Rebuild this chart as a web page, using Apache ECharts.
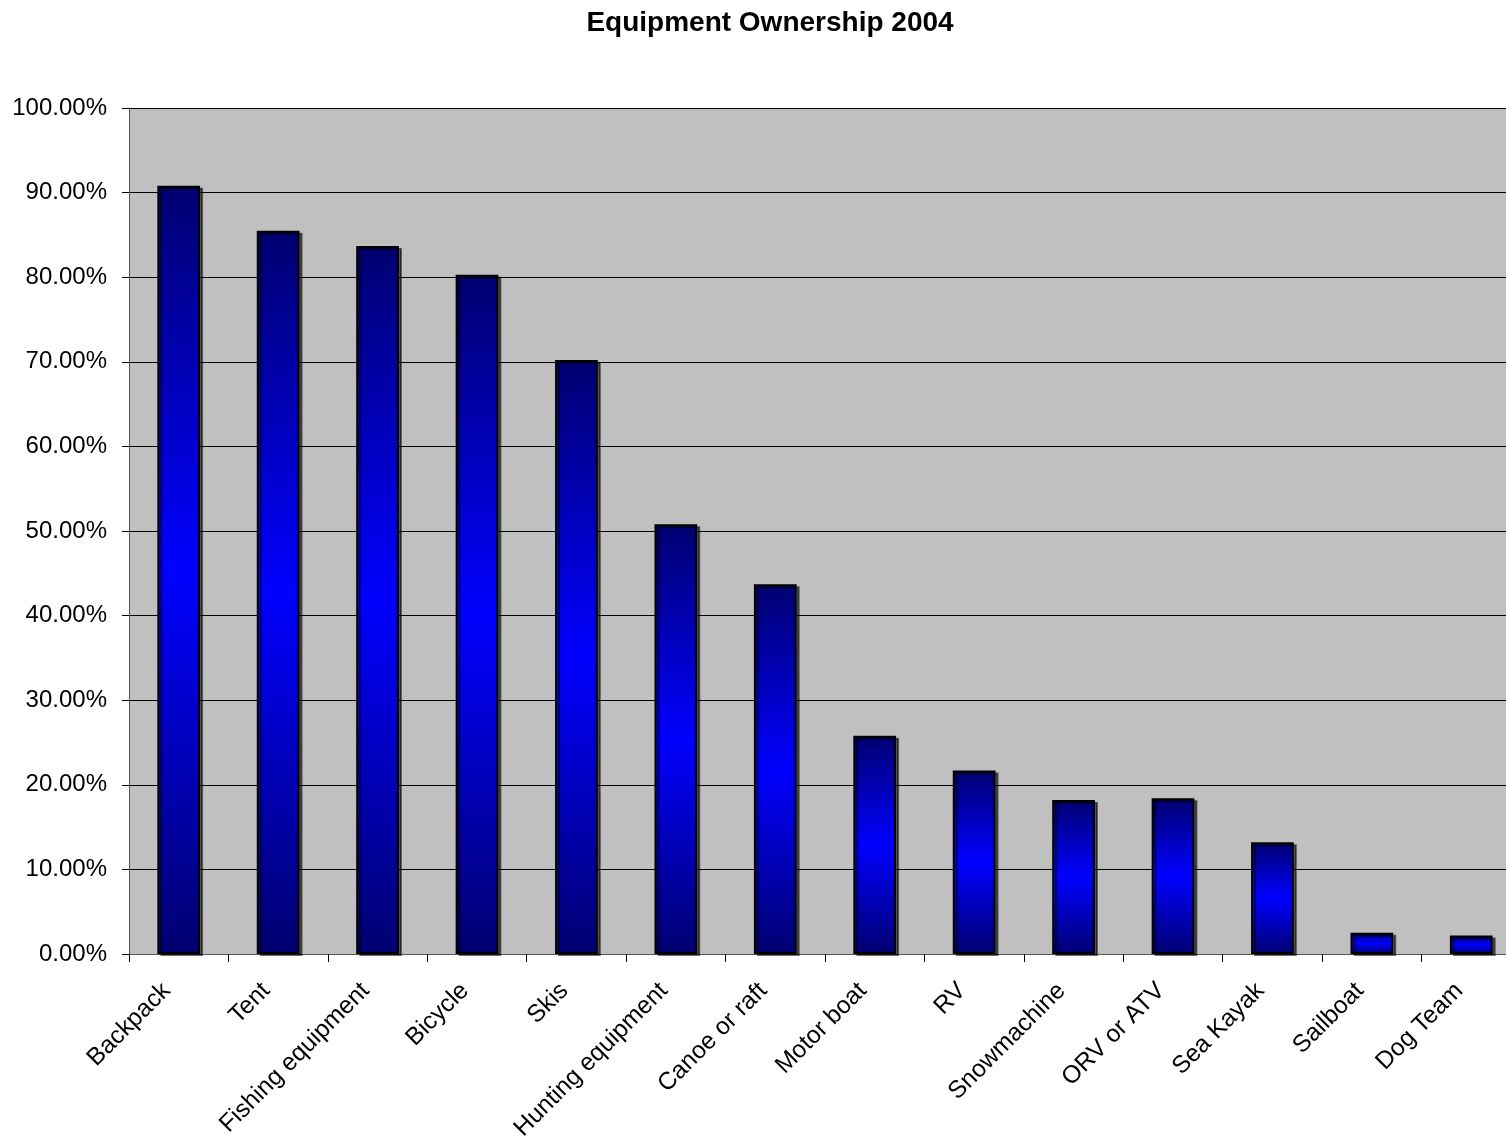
<!DOCTYPE html>
<html><head><meta charset="utf-8">
<script src="https://cdn.jsdelivr.net/npm/echarts@6/dist/echarts.min.js"></script>
<style>html,body{margin:0;padding:0;background:#fff;overflow:hidden;width:1506px;height:1144px}#c{width:1521px;height:1144px}</style>
</head><body><div id="c"></div>
<script>
const categories = ["Backpack","Tent","Fishing equipment","Bicycle","Skis","Hunting equipment","Canoe or raft","Motor boat","RV","Snowmachine","ORV or ATV","Sea Kayak","Sailboat","Dog Team"];
const ownership = [90.8,85.5,83.7,80.3,70.2,50.8,43.7,25.8,21.7,18.2,18.4,13.2,2.5,2.2];
const yTicks = [0,10,20,30,40,50,60,70,80,90,100];

const chart = echarts.init(document.getElementById('c'));
const font = '"Liberation Sans", Arial, sans-serif';
chart.setOption({
  animation:false,
  title:{text:'Equipment Ownership 2004', left:765, top:4, textAlign:'center',
    textStyle:{fontFamily:font, fontSize:28, fontWeight:'bold', color:'#000'}},
  grid:{left:129, right:0, top:108, bottom:190, backgroundColor:'#C0C0C0', show:true, borderWidth:0},
  xAxis:{type:'category', data:categories,
    axisLine:{lineStyle:{color:'#555', width:1}},
    axisTick:{show:true, length:8, lineStyle:{color:'#000'}},
    axisLabel:{rotate:45, fontFamily:font, fontSize:24.5, color:'#000', margin:21, interval:0,
      padding:[0,17,0,0]}},
  yAxis:{type:'value', min:0, max:100, interval:10,
    axisLine:{show:true, lineStyle:{color:'#555'}},
    axisTick:{show:true, length:7, lineStyle:{color:'#000'}},
    splitLine:{lineStyle:{color:'#000', width:1}},
    axisLabel:{fontFamily:font, fontSize:24, color:'#000', margin:22,
      formatter:v=>v.toFixed(2)+'%'}},
  series:[{type:'bar', data:ownership, barWidth:'43%',
    itemStyle:{
      color:new echarts.graphic.LinearGradient(0,0,0,1,[
        {offset:0,color:'#000070'},{offset:0.5,color:'#0000FF'},{offset:1,color:'#000070'}]),
      borderColor:'#000', borderWidth:2,
      shadowColor:'rgba(0,0,0,0.55)', shadowOffsetX:3, shadowOffsetY:2, shadowBlur:0}}]
});
</script></body></html>
